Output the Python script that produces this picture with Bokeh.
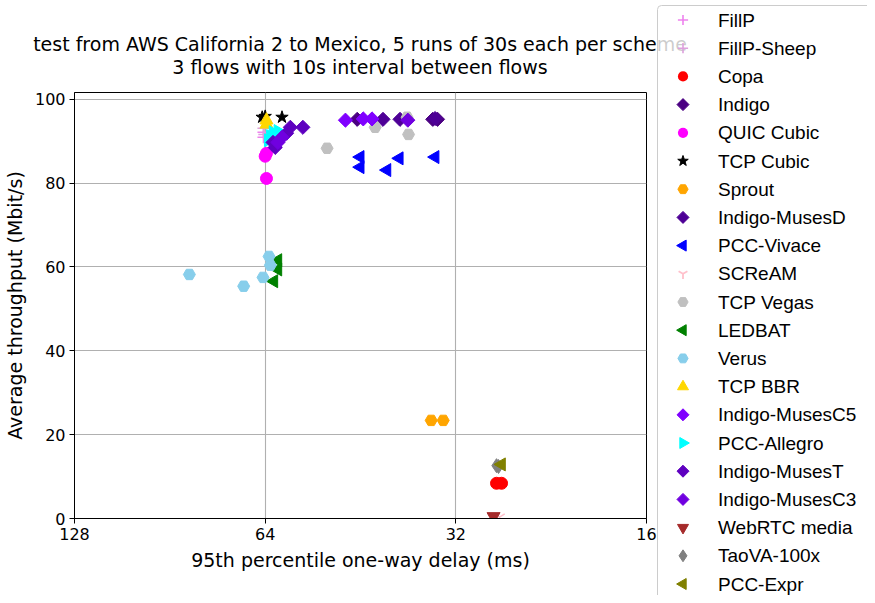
from bokeh.plotting import figure
from bokeh.layouts import row, column
from bokeh.models import Range1d, FixedTicker, Div
from bokeh.embed import file_html
from bokeh.resources import INLINE
import math

FONT = "DejaVu Sans"

# ---- data (delay in ms, throughput in Mbit/s) ----
fillp_x = [64.4, 64.4]
fillp_y = [92.1, 90.9]
fillp_sheep_x = [64.4, 64.2]
fillp_sheep_y = [93.1, 91.6]
copa_x = [27.6, 27.1]
copa_y = [8.4, 8.4]
indigo_x = [34.8, 34.2, 45.8]
indigo_y = [95.2, 95.2, 95.2]
quic_x = [63.7, 63.7, 64.0]
quic_y = [87.1, 81.1, 86.4]
cubic_x = [64.7, 60.2, 64.0]
cubic_y = [95.7, 95.7, 95.9]
sprout_x = [35.0, 33.5]
sprout_y = [23.4, 23.4]
musesd_x = [41.7, 39.2, 34.5]
musesd_y = [95.2, 95.2, 95.4]
vivace_x = [45.3, 45.3, 41.1, 39.3, 34.5]
vivace_y = [86.2, 83.8, 83.1, 85.9, 86.2]
scream_x = [27.3]
scream_y = [0.3]
vegas_x = [42.9, 38.2, 38.0, 51.1]
vegas_y = [93.3, 95.7, 91.6, 88.3]
ledbat_x = [61.1, 61.1, 62.0]
ledbat_y = [61.6, 59.4, 56.6]
verus_x = [84.3, 69.2, 64.5, 63.1, 62.8]
verus_y = [58.2, 55.4, 57.5, 62.5, 60.4]
bbr_x = [63.7, 63.7]
bbr_y = [95.0, 94.0]
musesc5_x = [47.8, 44.8, 43.4]
musesc5_y = [95.0, 95.3, 95.3]
allegro_x = [62.2, 61.1, 63.3, 62.8]
allegro_y = [92.1, 92.4, 90.2, 91.2]
musest_x = [58.4, 55.8, 59.2, 62.2, 61.7]
musest_y = [93.3, 93.3, 91.9, 89.7, 88.5]
musesc3_x = [60.2, 61.1, 38.1]
musesc3_y = [90.9, 89.7, 95.0]
webrtc_x = [27.9]
webrtc_y = [0.5]
taova_x = [27.6, 27.4]
taova_y = [12.6, 12.4]
expr_x = [27.1]
expr_y = [12.9]

x_ticks = [128, 64, 32, 16]
y_ticks = [0, 20, 40, 60, 80, 100]

title_line1 = "test from AWS California 2 to Mexico, 5 runs of 30s each per scheme"
title_line2 = "3 flows with 10s interval between flows"

# (label, x, y, marker, color, size, angle)
series = [
    ("FillP", fillp_x, fillp_y, "cross", "#EE82EE", 12, 0),
    ("FillP-Sheep", fillp_sheep_x, fillp_sheep_y, "cross", "#DDA0DD", 12, 0),
    ("Copa", copa_x, copa_y, "circle", "#FF0000", 12, 0),
    ("Indigo", indigo_x, indigo_y, "square", "#4B0082", 10, math.pi / 4),
    ("QUIC Cubic", quic_x, quic_y, "circle", "#FF00FF", 12, 0),
    ("TCP Cubic", cubic_x, cubic_y, "star", "#000000", 13, 0),
    ("Sprout", sprout_x, sprout_y, "hex", "#FFA500", 12, 0),
    ("Indigo-MusesD", musesd_x, musesd_y, "square", "#4E0096", 10, math.pi / 4),
    ("PCC-Vivace", vivace_x, vivace_y, "triangle", "#0000FF", 13, math.pi / 2),
    ("SCReAM", scream_x, scream_y, "y", "#FFC0CB", 12, 0),
    ("TCP Vegas", vegas_x, vegas_y, "hex", "#C0C0C0", 12, 0),
    ("LEDBAT", ledbat_x, ledbat_y, "triangle", "#008000", 13, math.pi / 2),
    ("Verus", verus_x, verus_y, "hex", "#87CEEB", 12, 0),
    ("TCP BBR", bbr_x, bbr_y, "triangle", "#FFD700", 13, 0),
    ("Indigo-MusesC5", musesc5_x, musesc5_y, "square", "#8000FF", 10, math.pi / 4),
    ("PCC-Allegro", allegro_x, allegro_y, "triangle", "#00FFFF", 13, -math.pi / 2),
    ("Indigo-MusesT", musest_x, musest_y, "square", "#5E00C0", 10, math.pi / 4),
    ("Indigo-MusesC3", musesc3_x, musesc3_y, "square", "#7000E0", 10, math.pi / 4),
    ("WebRTC media", webrtc_x, webrtc_y, "inverted_triangle", "#A52A2A", 13, 0),
    ("TaoVA-100x", taova_x, taova_y, "diamond", "#808080", 14, 0),
    ("PCC-Expr", expr_x, expr_y, "triangle", "#808000", 13, math.pi / 2),
]

TOTAL_W, H = 867, 595
W_MAIN = 657
TITLE_H = 87

# ---------------- title block ----------------
title_html = (
    f'<div style="position:relative;width:{W_MAIN}px;height:{TITLE_H}px;overflow:visible;'
    f'font-family:\'DejaVu Sans\';font-size:19px;color:black;">'
    f'<div style="position:absolute;left:0;width:720px;top:33px;height:23px;line-height:23px;'
    f'text-align:center;white-space:nowrap;">{title_line1}</div>'
    f'<div style="position:absolute;left:0;width:720px;top:56px;height:23px;line-height:23px;'
    f'text-align:center;white-space:nowrap;">{title_line2}</div>'
    f'</div>'
)
title_div = Div(text=title_html, width=W_MAIN, height=TITLE_H, margin=0,
                styles={"overflow": "visible", "padding": "0", "margin": "0"},
                stylesheets=[":host { position: relative; z-index: 1; overflow: visible; }"])

# ---------------- main plot ----------------
PH = H - TITLE_H
p = figure(
    width=W_MAIN, height=PH,
    x_axis_type="log",
    x_range=Range1d(128, 16),
    y_range=Range1d(0, 101.6),
    output_backend="svg",
    toolbar_location=None,
    min_border_left=74, min_border_right=11,
    min_border_top=5, min_border_bottom=PH - 5 - 426,
    background_fill_color="white", border_fill_color="white",
)
p.outline_line_color = "black"
p.outline_line_width = 1

p.xaxis.ticker = FixedTicker(ticks=x_ticks, minor_ticks=[])
p.xaxis.major_label_overrides = {t: str(t) for t in x_ticks}
p.yaxis.ticker = FixedTicker(ticks=y_ticks, minor_ticks=[])
p.xgrid.ticker = FixedTicker(ticks=x_ticks)
p.ygrid.ticker = FixedTicker(ticks=y_ticks)
for g in (p.xgrid, p.ygrid):
    g.grid_line_color = "#b0b0b0"
    g.grid_line_width = 1.1

for ax in (p.xaxis, p.yaxis):
    ax.axis_line_color = "black"
    ax.major_tick_line_color = "black"
    ax.major_tick_out = 5
    ax.major_tick_in = 0
    ax.minor_tick_line_color = None
    ax.major_label_text_font = FONT
    ax.major_label_text_font_size = "16px"
    ax.major_label_text_color = "black"
    ax.major_label_standoff = 4
    ax.axis_label_text_font = FONT
    ax.axis_label_text_font_size = "19px"
    ax.axis_label_text_font_style = "normal"
    ax.axis_label_text_color = "black"
    ax.axis_label_standoff = 6

p.xaxis.axis_label = "95th percentile one-way delay (ms)"
p.yaxis.axis_label = "Average throughput (Mbit/s)"

for label, xs, ys, marker, color, size, angle in series:
    p.scatter(xs, ys, marker=marker, size=size, angle=angle,
              fill_color=color, line_color=color,
              line_width=1.5 if marker in ("cross", "y") else 1)

# ---------------- legend panel (inline SVG) ----------------
W_LEG = TOTAL_W - W_MAIN


def rot(px, py, a):
    return (px * math.cos(a) + py * math.sin(a), -px * math.sin(a) + py * math.cos(a))


def poly(points, cx, cy, a, color):
    pts = []
    for px, py in points:
        rx, ry = rot(px, py, a)
        pts.append(f"{cx + rx:.2f},{cy + ry:.2f}")
    return f'<polygon points="{" ".join(pts)}" fill="{color}" stroke="{color}" stroke-width="1"/>'


def marker_svg(marker, cx, cy, s, a, color):
    r = s / 2.0
    if marker == "circle":
        return f'<circle cx="{cx}" cy="{cy:.2f}" r="{r:.2f}" fill="{color}"/>'
    if marker == "square":
        return poly([(-r, -r), (r, -r), (r, r), (-r, r)], cx, cy, a, color)
    if marker == "triangle":
        k = 1.15 * r
        return poly([(0, -k), (0.866 * k, 0.5 * k), (-0.866 * k, 0.5 * k)], cx, cy, a, color)
    if marker == "inverted_triangle":
        k = 1.15 * r
        return poly([(0, -k), (0.866 * k, 0.5 * k), (-0.866 * k, 0.5 * k)], cx, cy, math.pi, color)
    if marker == "star":
        pts = []
        for i in range(10):
            rr = r if i % 2 == 0 else r * 0.4
            t = -math.pi / 2 + i * math.pi / 5
            pts.append((rr * math.cos(t), rr * math.sin(t)))
        return poly(pts, cx, cy, 0, color)
    if marker == "hex":
        pts = [(r * math.cos(i * math.pi / 3), r * math.sin(i * math.pi / 3)) for i in range(6)]
        return poly(pts, cx, cy, 0, color)
    if marker == "diamond":
        return poly([(0, -r), (r / 1.5, 0), (0, r), (-r / 1.5, 0)], cx, cy, 0, color)
    if marker == "cross":
        return (f'<path d="M{cx - r:.2f},{cy:.2f} L{cx + r:.2f},{cy:.2f} '
                f'M{cx:.2f},{cy - r:.2f} L{cx:.2f},{cy + r:.2f}" stroke="{color}" stroke-width="1.6"/>')
    if marker == "y":
        return (f'<path d="M{cx:.2f},{cy:.2f} L{cx:.2f},{cy + r:.2f} '
                f'M{cx:.2f},{cy:.2f} L{cx - 0.866 * r:.2f},{cy - 0.5 * r:.2f} '
                f'M{cx:.2f},{cy:.2f} L{cx + 0.866 * r:.2f},{cy - 0.5 * r:.2f}" '
                f'stroke="{color}" stroke-width="1.8"/>')
    return ""


row_y = [20 + 28.2 * i for i in range(len(series))]
parts = [f'<svg xmlns="http://www.w3.org/2000/svg" width="{W_LEG}" height="{H}" '
         f'style="display:block;overflow:hidden">',
         f'<rect x="0.5" y="5.5" width="{W_LEG + 30}" height="{H + 30}" rx="4" ry="4" '
         f'fill="white" fill-opacity="0.8" stroke="#cccccc" stroke-width="1"/>']
for (label, xs, ys, marker, color, size, angle), yy in zip(series, row_y):
    parts.append(marker_svg(marker, 26, yy, size * 0.85, angle, color))
    parts.append(f'<text x="61" y="{yy:.2f}" font-family="DejaVu Sans" font-size="19px" '
                 f'dominant-baseline="central" fill="black">{label}</text>')
parts.append("</svg>")

legend_div = Div(text="".join(parts), width=W_LEG, height=H, margin=0,
                 styles={"overflow": "hidden", "padding": "0", "margin": "0"},
                 stylesheets=[":host { position: relative; z-index: 5; }"])

layout = row(column(title_div, p, spacing=0), legend_div, spacing=0)
open("out.html", "w").write(file_html(layout, INLINE))
